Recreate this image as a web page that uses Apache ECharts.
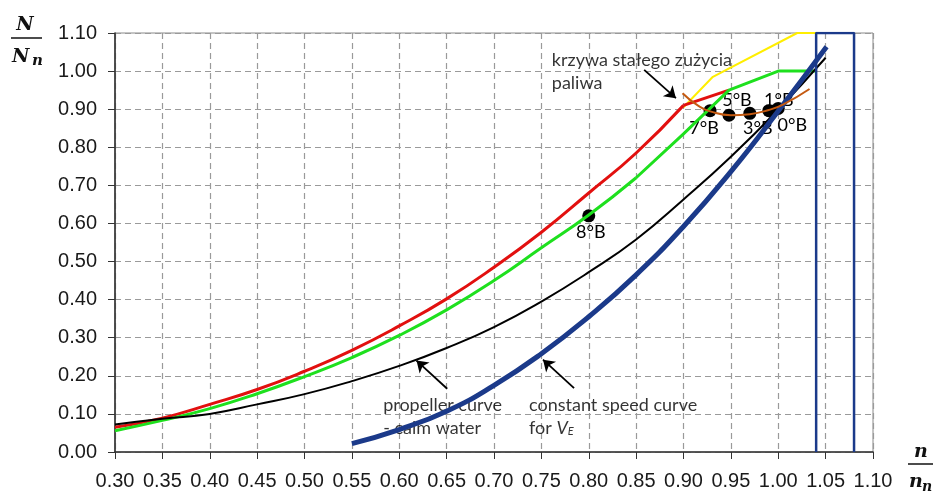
<!DOCTYPE html>
<html><head><meta charset="utf-8">
<script src="https://cdn.jsdelivr.net/npm/echarts/dist/echarts.min.js"></script>
<style>html,body{margin:0;padding:0;background:#fff}#c{width:935px;height:491px}</style>
</head><body><div id="c"></div>
<script>
// ---- data ----
const nGrid = [0.30,0.35,0.40,0.45,0.50,0.55,0.60,0.65,0.70,0.75,0.80,0.85,0.90,0.95,1.00,1.05];
const redX = [0.30,0.35,0.40,0.45,0.50,0.55,0.60,0.65,0.70,0.75,0.80,0.85,0.90,0.948];
const redY = [0.065,0.089,0.125,0.164,0.212,0.267,0.331,0.402,0.485,0.577,0.680,0.785,0.910,0.950];
const greenX = [0.30,0.35,0.40,0.45,0.50,0.55,0.60,0.65,0.70,0.75,0.80,0.85,0.90,0.948,1.00,1.04];
const greenY = [0.056,0.083,0.114,0.153,0.198,0.248,0.306,0.373,0.450,0.536,0.622,0.720,0.835,0.950,1.000,1.000];
const propY = [0.072,0.087,0.100,0.125,0.152,0.186,0.226,0.273,0.328,0.395,0.472,0.558,0.663,0.775,0.899,1.035];
const speedX = [0.55,0.60,0.65,0.70,0.75,0.80,0.85,0.90,0.95,1.00,1.051];
const speedY = [0.022,0.059,0.107,0.175,0.258,0.355,0.465,0.592,0.736,0.895,1.064];
const yellowX = [0.90,0.931,1.02,1.04];
const yellowY = [0.905,0.985,1.10,1.10];
const fuelX = [0.899,0.915,0.930,0.950,0.970,0.990,1.005,1.033];
const fuelY = [0.942,0.910,0.893,0.884,0.887,0.898,0.912,0.953];
const boxX = [1.04,1.04,1.08,1.08];
const boxY = [0.00,1.10,1.10,0.00];
const stateLabels = ['8°B','7°B','5°B','3°B','1°B','0°B'];
const stateX = [0.800,0.928,0.948,0.970,0.990,1.000];
const stateY = [0.620,0.896,0.884,0.889,0.896,0.902];
const noteTexts = ['krzywa stałego zużycia\npaliwa','propeller curve\n- calm water','constant speed curve\nfor {it|V}{sub|E}'];
const noteX = [0.761,0.583,0.737];
const noteY = [1.060,0.154,0.154];
const arrowFrom = [[0.8585,1.003],[0.6506,0.166],[0.7845,0.1675]];
const arrowTo = [[0.8920,0.929],[0.6182,0.240],[0.7517,0.2424]];

// ---- build ----
const zip = (xs, ys) => xs.map((x, i) => [x, ys[i]]);
const red = zip(redX, redY), green = zip(greenX, greenY);
const redKink = 12, greenKink = 11;
const labelOffsets = {'8°B':[2,16],'7°B':[-6,17],'5°B':[8,-15],'3°B':[8,15],'1°B':[10,-11],'0°B':[14,17]};
const txtFont = 'Lato, "Open Sans", sans-serif';

const chart = echarts.init(document.getElementById('c'), null, {renderer:'canvas'});
const lineS = (name, data, color, width, extra) => Object.assign({
  name, type:'line', data, showSymbol:false, symbol:'none', silent:true,
  lineStyle:{color, width}, animation:false
}, extra || {});
const sm = {smooth:0.5};

chart.setOption({
  animation:false,
  grid:{left:115, right:62, top:33, bottom:38, show:true, borderColor:'#8a8a8a', borderWidth:1},
  xAxis:{type:'value', min:0.30, max:1.10, interval:0.05,
    axisLine:{show:true, onZero:false, lineStyle:{color:'#333', width:1.6}},
    axisTick:{show:true, inside:false, length:7, lineStyle:{color:'#333'}},
    axisLabel:{formatter:v=>v.toFixed(2), color:'#1a1a1a', fontFamily:'"Liberation Sans", Arial, sans-serif', fontSize:20, margin:19},
    splitLine:{show:true, lineStyle:{color:'#9a9a9a', type:[6,4], width:1.2}}},
  yAxis:{type:'value', min:0, max:1.10, interval:0.10,
    axisLine:{show:true, lineStyle:{color:'#333', width:1.6}},
    axisTick:{show:true, length:7, lineStyle:{color:'#333'}},
    axisLabel:{formatter:v=>v.toFixed(2), color:'#1a1a1a', fontFamily:'"Liberation Sans", Arial, sans-serif', fontSize:20, margin:18},
    splitLine:{show:true, lineStyle:{color:'#9a9a9a', type:[6,4], width:1.2}}},
  series:[
    lineS('yellow', zip(yellowX, yellowY), '#FFEE00', 2),
    lineS('red', red.slice(0, redKink+1), '#E2100F', 3, sm),
    lineS('red2', red.slice(redKink), '#E2100F', 3),
    lineS('green', green.slice(0, greenKink+1), '#1EE01E', 3, sm),
    lineS('green2', green.slice(greenKink), '#1EE01E', 3),
    lineS('propeller', zip(nGrid, propY), '#000000', 2, sm),
    lineS('speed', zip(speedX, speedY), '#1B3A8A', 5, sm),
    lineS('box', zip(boxX, boxY), '#1B3A8A', 2.5),
    {type:'scatter', data: stateX.map((x,i)=>({value:[x, stateY[i]], name:stateLabels[i],
        label:{show:true, position:'inside', offset:labelOffsets[stateLabels[i]], formatter:stateLabels[i]}})),
      symbolSize:13, itemStyle:{color:'#000', opacity:1}, silent:true,
      label:{color:'#000', fontFamily:txtFont, fontSize:18}},
    lineS('fuel', zip(fuelX, fuelY), '#C55A11', 2, {smooth:true}),
    {type:'lines', coordinateSystem:'cartesian2d', silent:true,
      data: arrowFrom.map((f,i)=>({coords:[f, arrowTo[i]]})),
      symbol:['none','arrow'], symbolSize:11,
      lineStyle:{color:'#000', width:1.8, opacity:1}},
    {type:'scatter', symbolSize:0, silent:true,
      data: noteX.map((x,i)=>({value:[x, noteY[i]], name:noteTexts[i]})),
      label:{show:true, position:'inside', align:'left', verticalAlign:'top',
        formatter:p=>p.name, color:'#000', fontFamily:txtFont, fontSize:18, lineHeight:23,
        rich:{it:{fontStyle:'italic', fontFamily:txtFont, fontSize:18, color:'#000', lineHeight:23},
              sub:{fontStyle:'italic', fontFamily:txtFont, fontSize:11, color:'#000', padding:[8,0,0,0], lineHeight:23}}}}
  ],
  graphic:[
    {type:'text', style:{text:'N', x:25, y:25, align:'center', verticalAlign:'middle', font:'bold italic 19px "DejaVu Serif", serif', fill:'#111'}},
    {type:'line', shape:{x1:11, y1:38, x2:42, y2:38}, style:{stroke:'#111', lineWidth:1.5}},
    {type:'text', style:{text:'N', x:12, y:57, align:'left', verticalAlign:'middle', font:'bold italic 19px "DejaVu Serif", serif', fill:'#111'}},
    {type:'text', style:{text:'n', x:32, y:61, align:'left', verticalAlign:'middle', font:'bold italic 15px "DejaVu Serif", serif', fill:'#111'}},
    {type:'text', style:{text:'n', x:921, y:452, align:'center', verticalAlign:'middle', font:'bold italic 19px "DejaVu Serif", serif', fill:'#111'}},
    {type:'line', shape:{x1:908, y1:464, x2:933, y2:464}, style:{stroke:'#111', lineWidth:1.5}},
    {type:'text', style:{text:'n', x:909, y:482, align:'left', verticalAlign:'middle', font:'bold italic 19px "DejaVu Serif", serif', fill:'#111'}},
    {type:'text', style:{text:'n', x:922, y:487, align:'left', verticalAlign:'middle', font:'bold italic 14px "DejaVu Serif", serif', fill:'#111'}}
  ]
});
</script></body></html>
